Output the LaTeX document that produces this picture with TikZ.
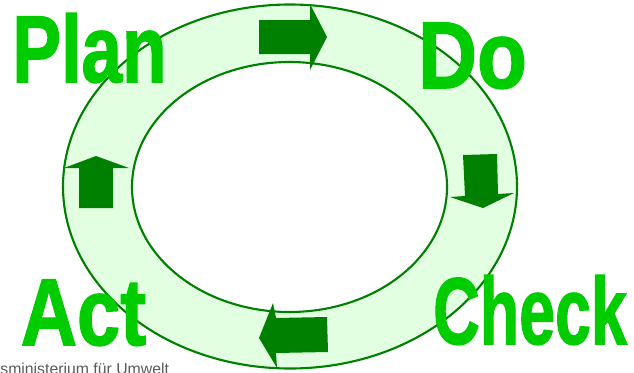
\documentclass[tikz,border=0pt]{standalone}
\usepackage{fontspec}
\setmainfont{Liberation Sans}
\newfontfamily\stepfont{Liberation Sans}[BoldFeatures={FakeBold=1.6}]
\usetikzlibrary{positioning}
\definecolor{ringfill}{RGB}{226,255,226}
\definecolor{ringline}{RGB}{0,128,0}
\definecolor{wordgreen}{RGB}{0,204,0}
\definecolor{arrowgreen}{RGB}{0,128,0}
\definecolor{notegray}{RGB}{90,90,90}
\newcommand{\squeeze}[2]{\scalebox{#1}[1]{#2}}

\begin{document}
\begin{tikzpicture}[x=0.02cm, y=-0.02cm,
  ring/.style={draw=ringline, line width=1.2pt, fill=ringfill, even odd rule},
  word/.style={font=\stepfont\bfseries\fontsize{54}{54}\selectfont, text=wordgreen,
               anchor=base, inner sep=0pt},
  blockarrow/.style={fill=arrowgreen, draw=none},
  note/.style={font=\fontsize{9}{9}\selectfont, text=notegray, anchor=base west, inner sep=0pt}
]
  \useasboundingbox (0,0) rectangle (634,372);

  % ring
  \path[ring] (290,186.5) ellipse [x radius=227, y radius=182]
              (289.5,187) ellipse [x radius=157.5, y radius=125];

  % arrows round the cycle
  \fill[blockarrow] (259,20) -- (310,20) -- (310,4) -- (327,37) -- (310,70) -- (310,54) -- (259,54) -- cycle;
  \fill[blockarrow] (463,155) -- (497,154) -- (498,194) -- (514,193) -- (483,208) -- (450,197) -- (465,196) -- cycle;
  \fill[blockarrow] (327,317) -- (276,318) -- (273,303) -- (259,338) -- (277,368) -- (276,353) -- (328,352) -- cycle;
  \fill[blockarrow] (79,208) -- (79,168) -- (64,168) -- (96,156) -- (129,168) -- (113,168) -- (113,208) -- cycle;

  % the four steps
  \node[word] (plan)  at (89.5,82) {\squeeze{0.77}{Plan}};
  \node[word] (do)    at (472.5,88) {\squeeze{0.86}{Do}};
  \node[word] (act)   at (83.5,345) {\squeeze{0.82}{Act}};
  \node[word] (check) at (530,344) {\squeeze{0.68}{Check}};

  \node[note] (source) at (0,374) {sministerium für Umwelt};
\end{tikzpicture}
\end{document}
